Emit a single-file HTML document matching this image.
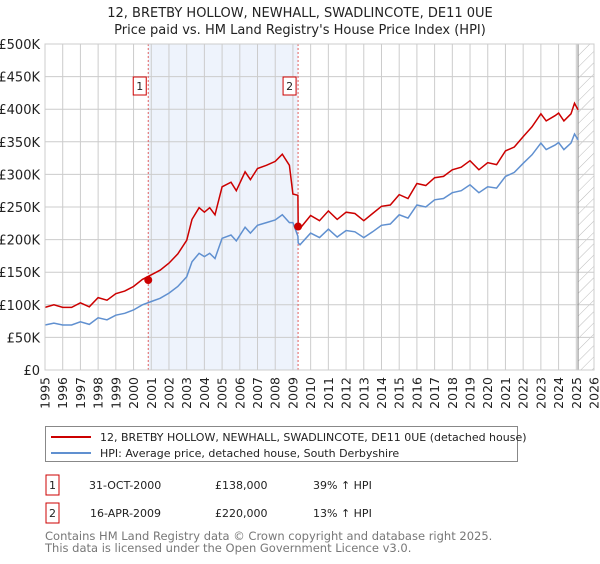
<!DOCTYPE html>
<html><head><meta charset="utf-8"><style>
body{margin:0;background:#fff;font-family:"DejaVu Sans","Liberation Sans",sans-serif;}
svg text{font-family:"DejaVu Sans","Liberation Sans",sans-serif;}
</style></head><body>
<svg id="chart" width="600" height="560" xmlns="http://www.w3.org/2000/svg">
<text x="300" y="17" text-anchor="middle" font-size="13" fill="#222">12, BRETBY HOLLOW, NEWHALL, SWADLINCOTE, DE11 0UE</text>
<text x="300" y="34" text-anchor="middle" font-size="13" fill="#222">Price paid vs. HM Land Registry's House Price Index (HPI)</text>
<defs><pattern id="hatch" width="8" height="8" patternUnits="userSpaceOnUse" patternTransform="rotate(45)"><line x1="0" y1="0" x2="0" y2="8" stroke="#bbb" stroke-width="1"/></pattern></defs>
<g id="plot"></g>
<g>
<rect x="45.5" y="426.5" width="472" height="35" fill="#fff" stroke="#888"/>
<line x1="51" y1="437" x2="91" y2="437" stroke="#cc0000" stroke-width="2"/>
<text x="100" y="441" font-size="11" fill="#222">12, BRETBY HOLLOW, NEWHALL, SWADLINCOTE, DE11 0UE (detached house)</text>
<line x1="51" y1="453" x2="91" y2="453" stroke="#6090d0" stroke-width="2"/>
<text x="100" y="457" font-size="11" fill="#222">HPI: Average price, detached house, South Derbyshire</text>
</g>
<g font-size="11" fill="#222">
<rect x="46" y="475" width="13" height="20" fill="#fff" stroke="#cc0000"/>
<text x="52.5" y="489" text-anchor="middle">1</text>
<text x="89" y="489">31-OCT-2000</text><text x="215" y="489">£138,000</text><text x="313" y="489">39% ↑ HPI</text>
<rect x="46" y="503" width="13" height="20" fill="#fff" stroke="#cc0000"/>
<text x="52.5" y="517" text-anchor="middle">2</text>
<text x="90" y="517">16-APR-2009</text><text x="215" y="517">£220,000</text><text x="313" y="517">13% ↑ HPI</text>
</g>
<text x="45" y="540" font-size="11.5" fill="#777">Contains HM Land Registry data © Crown copyright and database right 2025.</text>
<text x="45" y="552" font-size="11.5" fill="#777">This data is licensed under the Open Government Licence v3.0.</text>
</svg>
<script>
const dates=[1995.0,1995.5,1996.0,1996.5,1997.0,1997.5,1998.0,1998.5,1999.0,1999.5,2000.0,2000.5,2001.0,2001.5,2002.0,2002.5,2003.0,2003.3,2003.7,2004.0,2004.3,2004.6,2005.0,2005.5,2005.8,2006.3,2006.6,2007.0,2007.5,2008.0,2008.4,2008.8,2009.0,2009.28,2009.3,2009.4,2010.0,2010.5,2011.0,2011.5,2012.0,2012.5,2013.0,2013.5,2014.0,2014.5,2015.0,2015.5,2016.0,2016.5,2017.0,2017.5,2018.0,2018.5,2019.0,2019.5,2020.0,2020.5,2021.0,2021.5,2022.0,2022.5,2023.0,2023.3,2023.8,2024.0,2024.3,2024.7,2024.9,2025.1];
const hpiValues=[69,72,69,69,74,70,80,77,84,87,92,100,105,110,118,128,143,166,179,174,179,171,202,207,198,219,210,222,226,230,238,226,226,205,195,192,210,203,216,204,214,212,203,212,222,224,238,233,253,250,261,263,272,275,284,272,281,279,297,303,317,330,348,338,345,349,338,348,362,353];
const priceValues=[96,100,96,96,103,97,111,107,117,121,128,139,146,153,164,178,199,231,249,242,249,238,281,288,275,304,292,309,314,320,331,314,270,268,220,217,237,229,244,231,242,240,229,240,251,253,269,263,286,283,295,297,307,311,321,307,318,315,336,342,358,373,393,382,390,394,382,393,409,399];
const yTicks=[0,50,100,150,200,250,300,350,400,450,500];
const yTickLabels=["£0","£50K","£100K","£150K","£200K","£250K","£300K","£350K","£400K","£450K","£500K"];
const xYears=[1995,1996,1997,1998,1999,2000,2001,2002,2003,2004,2005,2006,2007,2008,2009,2010,2011,2012,2013,2014,2015,2016,2017,2018,2019,2020,2021,2022,2023,2024,2025,2026];
const saleDates=[2000.83,2009.29];
const saleValues=[138,220];
const saleLabels=["1","2"];
const X0=45,X1=594,Y0=370,Y1=44;
const xs=t=>X0+(t-1995)/31*(X1-X0);
const ys=v=>Y0-v/500*(Y0-Y1);
const NS="http://www.w3.org/2000/svg";
const g=document.getElementById('plot');
function mk(tag,attrs){const e=document.createElementNS(NS,tag);for(const k in attrs)e.setAttribute(k,attrs[k]);g.appendChild(e);return e;}
let e;
e=mk('rect',{x:xs(saleDates[0]),y:Y1,width:xs(saleDates[1])-xs(saleDates[0]),height:Y0-Y1,fill:'#eef3fc'});


e=mk('rect',{x:xs(2025.1),y:Y1,width:X1-xs(2025.1),height:Y0-Y1,fill:'url(#hatch)'});


yTicks.forEach((v,i)=>{
 e=mk('line',{x1:X0,x2:X1,y1:ys(v),y2:ys(v),stroke:'#cccccc'});
 
 
 e=mk('text',{x:X0-5,y:ys(v)+5,'text-anchor':'end','font-size':'13',fill:'#222'});e.textContent=yTickLabels[i];
 
 
});
xYears.forEach(yr=>{
 e=mk('line',{x1:xs(yr),x2:xs(yr),y1:Y1,y2:Y0,stroke:'#cccccc'});
 
 
 const tx=xs(yr)+4.5, ty=377;
 e=mk('text',{x:tx,y:ty,'text-anchor':'end','font-size':'12.5',fill:'#222',transform:'rotate(-90 '+tx+' '+ty+')'});e.textContent=yr;
 
 
});
e=mk('line',{x1:xs(2025.1),x2:xs(2025.1),y1:Y1,y2:Y0,stroke:'#888'});


saleDates.forEach((d,i)=>{
 e=mk('line',{x1:xs(d),x2:xs(d),y1:Y1,y2:Y0,stroke:'#e06060','stroke-dasharray':'2,2'});
 
 
 e=mk('rect',{x:xs(d)-15,y:77,width:13,height:18,fill:'#fff',stroke:'#cc0000'});
 
 
 e=mk('text',{x:xs(d)-8.5,y:90,'text-anchor':'middle','font-size':'11',fill:'#222'});e.textContent=saleLabels[i];
 
 
});
const pts=vals=>vals.map((v,i)=>xs(dates[i]).toFixed(1)+','+ys(v).toFixed(1)).join(' ');
e=mk('polyline',{points:pts(hpiValues),fill:'none',stroke:'#6090d0','stroke-width':1.5});


e=mk('polyline',{points:pts(priceValues),fill:'none',stroke:'#cc0000','stroke-width':1.5});


saleDates.forEach((d,i)=>{
 e=mk('circle',{cx:xs(d),cy:ys(saleValues[i]),r:4,fill:'#cc0000'});
 
 
});
e=mk('rect',{x:X0,y:Y1,width:X1-X0,height:Y0-Y1,fill:'none',stroke:'#cccccc'});


</script>
</body></html>
